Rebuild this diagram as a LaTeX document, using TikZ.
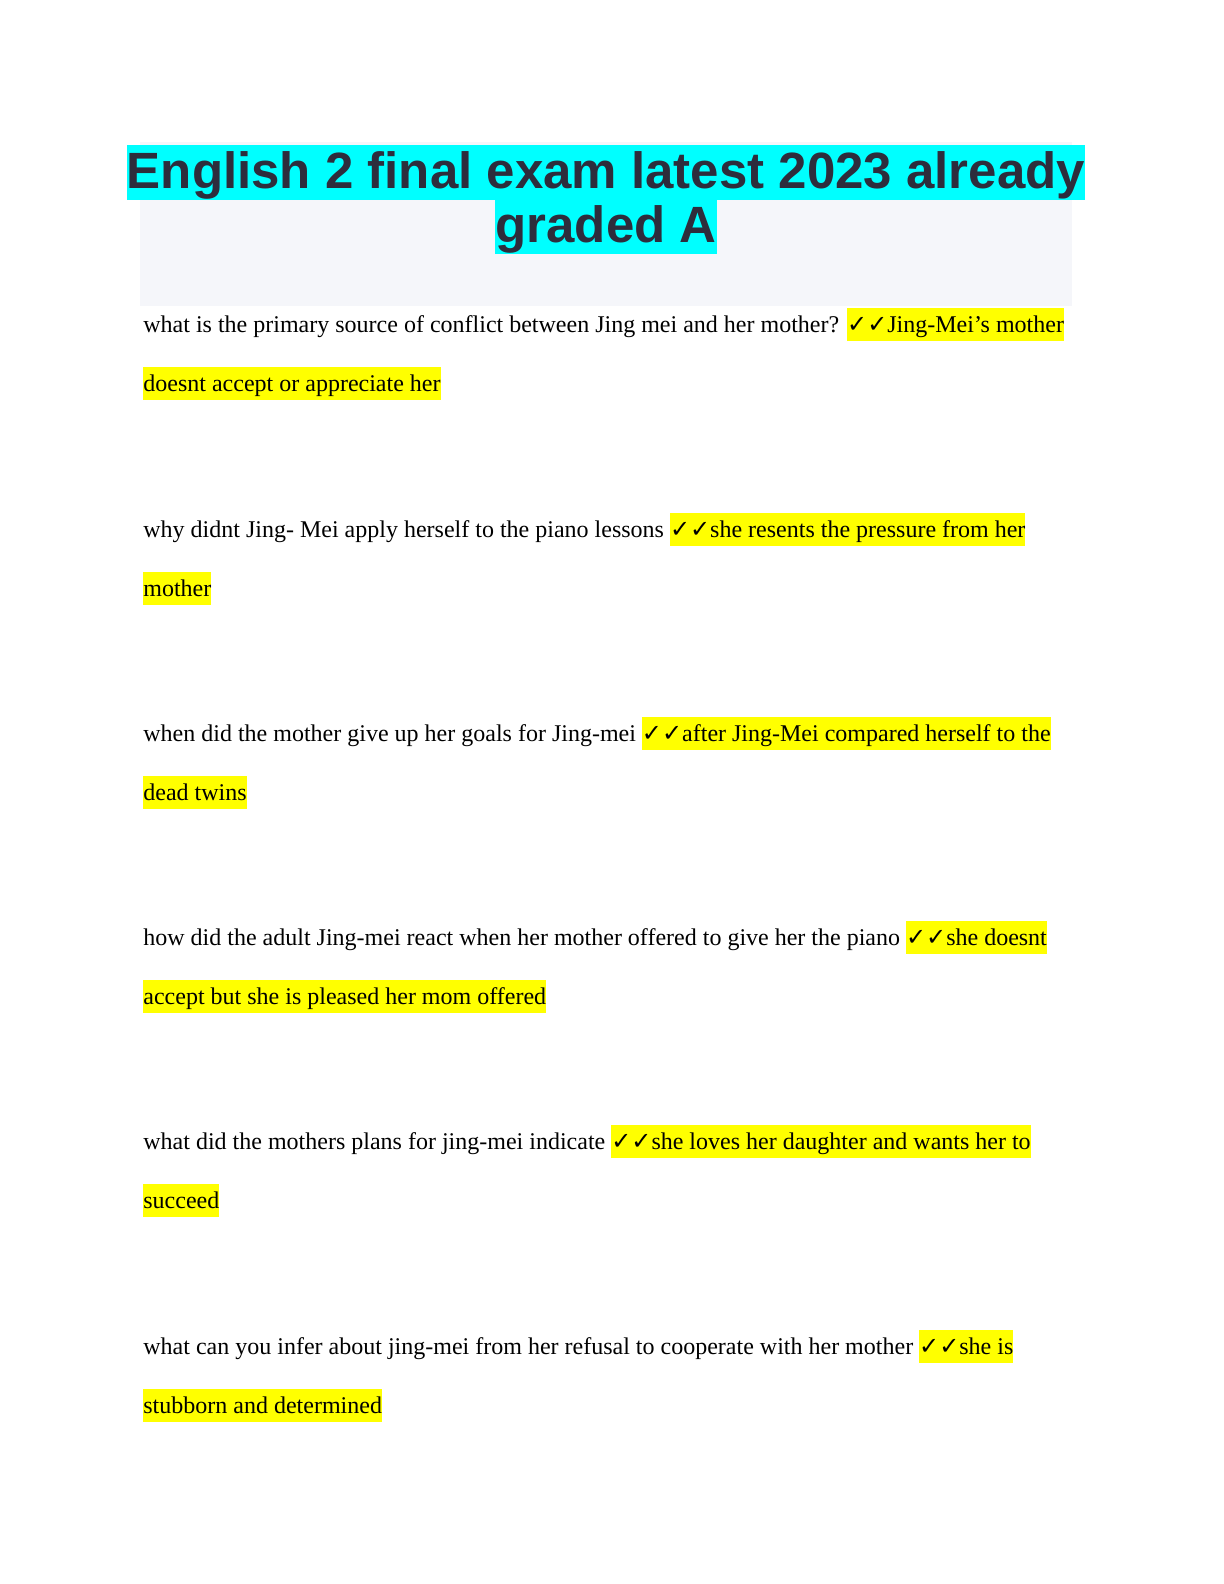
\documentclass[tikz,border=0pt]{standalone}
\usepackage{fontspec}
\setmainfont{Liberation Serif}
\newfontfamily\titlefont{Liberation Sans}
\newfontfamily\ckfont{DejaVu Sans}
\definecolor{hlyellow}{RGB}{255,255,0}
\definecolor{hlcyan}{RGB}{0,255,255}
\definecolor{boxgray}{RGB}{245,246,250}
\definecolor{titlecol}{RGB}{45,45,60}
\newcommand{\hly}[1]{{\fboxsep=0pt\colorbox{hlyellow}{\rule[-4.6bp]{0pt}{16.6bp}#1}}}
\newcommand{\hlc}[1]{{\fboxsep=0pt\colorbox{hlcyan}{\rule[-6bp]{0pt}{27.5bp}#1}}}
\newcommand{\ck}{{\ckfont\bfseries ✓✓}}
\tikzset{qline/.style={anchor=base west,inner sep=0pt,font=\fontsize{12bp}{14bp}\selectfont},
 ttl/.style={anchor=base,inner sep=0pt,font=\titlefont\bfseries\fontsize{25.5bp}{30bp}\selectfont,text=titlecol}}
\begin{document}
\begin{tikzpicture}[x=0.5bp,y=-0.5bp]
\useasboundingbox (0,0) rectangle (1224,1584);
\fill[boxgray] (140,142) rectangle (1072,306);
\node[ttl] (t1) at (606,188) {\hlc{English 2 final exam latest 2023 already}};
\node[ttl] (t2) at (606,242) {\hlc{graded A}};
\node[qline] (q1) at (143,332) {what is the primary source of conflict between Jing mei and her mother? \hly{\ck Jing-Mei's mother}};
\node[qline] (a1) at (143,391) {\hly{doesnt accept or appreciate her}};
\node[qline] (q2) at (143,537) {why didnt Jing- Mei apply herself to the piano lessons \hly{\ck she resents the pressure from her}};
\node[qline] (a2) at (143,596) {\hly{mother}};
\node[qline] (q3) at (143,741) {when did the mother give up her goals for Jing-mei \hly{\ck after Jing-Mei compared herself to the}};
\node[qline] (a3) at (143,800) {\hly{dead twins}};
\node[qline] (q4) at (143,945) {how did the adult Jing-mei react when her mother offered to give her the piano \hly{\ck she doesnt}};
\node[qline] (a4) at (143,1004) {\hly{accept but she is pleased her mom offered}};
\node[qline] (q5) at (143,1149) {what did the mothers plans for jing-mei indicate \hly{\ck she loves her daughter and wants her to}};
\node[qline] (a5) at (143,1208) {\hly{succeed}};
\node[qline] (q6) at (143,1354) {what can you infer about jing-mei from her refusal to cooperate with her mother \hly{\ck she is}};
\node[qline] (a6) at (143,1413) {\hly{stubborn and determined}};
\end{tikzpicture}
\end{document}
